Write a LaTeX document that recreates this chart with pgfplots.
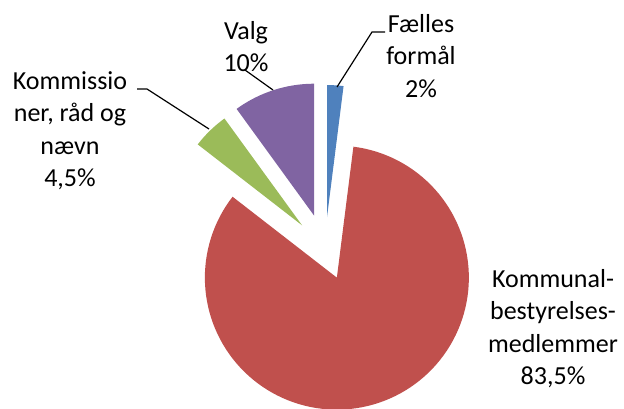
\documentclass[border=0pt]{standalone}
\usepackage{pgfplots}
\pgfplotsset{compat=1.18}
\usepackage{fontspec}
\setmainfont{Carlito}
\definecolor{slBlue}{HTML}{4F81BD}
\definecolor{slRed}{HTML}{C0504D}
\definecolor{slGreen}{HTML}{9BBB59}
\definecolor{slPurple}{HTML}{8064A2}
% pie geometry in image pixels (y up)
\def\cx{325}\def\cy{159}\def\rad{132}
\newcommand\slice[3]{% value (percent), colour, explode
  \pgfmathsetmacro\sa{\cur}%
  \pgfmathsetmacro\ea{\cur-3.6*#1}%
  \pgfmathsetmacro\ma{(\sa+\ea)/2}%
  \pgfmathsetmacro\px{\cx+#3*cos(\ma)}%
  \pgfmathsetmacro\py{\cy+#3*sin(\ma)}%
  \edef\doslice{\noexpand\addplot[fill=#2, draw=none, domain=\ea:\sa, samples=120]
     ({\px+\rad*cos(x)},{\py+\rad*sin(x)}) -- (axis cs:\px,\py) -- cycle;}%
  \doslice
  \xdef\cur{\ea}%
}
\begin{document}
\begin{tikzpicture}
\begin{axis}[
  scale only axis, width=312pt, height=204pt,
  xmin=0, xmax=624, ymin=0, ymax=408,
  hide axis, clip=true,
]
\addplot[draw=none] coordinates {(0,0) (624,408)};
\xdef\cur{90}
\slice{2}{slBlue}{32}
\slice{83.5}{slRed}{31}
\slice{4.5}{slGreen}{33}
\slice{10}{slPurple}{35}
% leader lines
\addplot[black, line width=0.6pt] coordinates {(385,376) (372,376) (337,321)};
\addplot[black, line width=0.6pt] coordinates {(245,338) (273,318)};
\addplot[black, line width=0.6pt] coordinates {(137,319) (147,319) (209,279)};
% labels
\node[anchor=north, align=center, inner sep=0pt, font={\fontsize{13}{16.25}\selectfont}]
  at (axis cs:421,394) {Fælles\\formål\\2\%};
\node[anchor=north, align=center, inner sep=0pt, font={\fontsize{13}{16.25}\selectfont}]
  at (axis cs:246,387) {Valg\\10\%};
\node[anchor=north, align=center, inner sep=0pt, font={\fontsize{13}{16.25}\selectfont}]
  at (axis cs:70,337) {Kommissio\\ner, råd og\\nævn\\4,5\%};
\node[anchor=north, align=center, inner sep=0pt, font={\fontsize{13}{16.25}\selectfont}]
  at (axis cs:553,139) {Kommunal-\\bestyrelses-\\medlemmer\\83,5\%};
\end{axis}
\end{tikzpicture}
\end{document}
